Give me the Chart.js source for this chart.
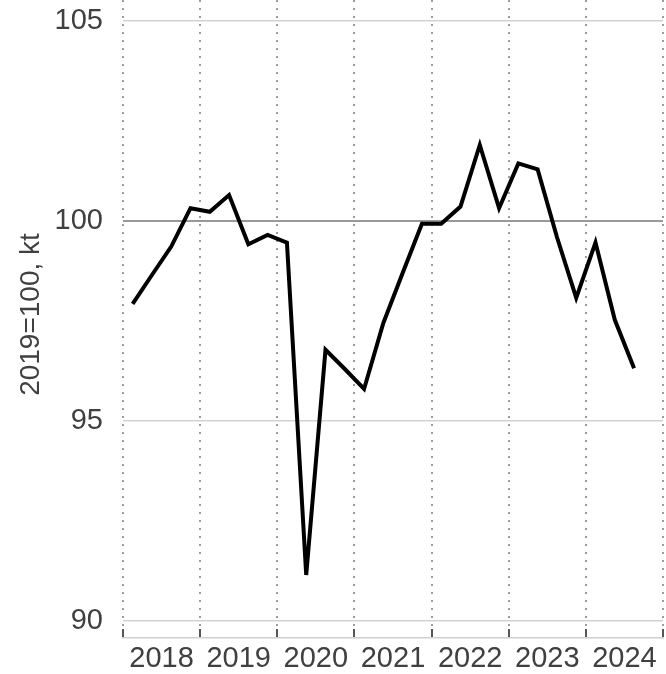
<!DOCTYPE html>
<html>
<head>
<meta charset="utf-8">
<script src="https://cdn.jsdelivr.net/npm/chart.js@4/dist/chart.umd.min.js"></script>
<style>
  html, body { margin: 0; padding: 0; background: #fff; }
  #wrap { width: 666px; height: 674px; }
</style>
</head>
<body>
<div id="wrap"><canvas id="c" width="666" height="674"></canvas></div>
<script>
// Quarterly periods (2018Q1 .. 2024Q3)
const quarters = [
  "2018Q1","2018Q2","2018Q3","2018Q4",
  "2019Q1","2019Q2","2019Q3","2019Q4",
  "2020Q1","2020Q2","2020Q3","2020Q4",
  "2021Q1","2021Q2","2021Q3","2021Q4",
  "2022Q1","2022Q2","2022Q3","2022Q4",
  "2023Q1","2023Q2","2023Q3","2023Q4",
  "2024Q1","2024Q2","2024Q3"
];
// Index, 2019=100 (kt)
const values = [
  97.93, 98.65, 99.36, 100.32,
  100.23, 100.65, 99.42, 99.65,
  99.46, 91.15, 96.78, 96.30,
  95.80, 97.45, 98.70, 99.93,
  99.93, 100.36, 101.90, 100.32,
  101.44, 101.29, 99.60, 98.08,
  99.46, 97.53, 96.32
];
const yearLabels = ["2018","2019","2020","2021","2022","2023","2024"];
const yTicks = [90, 95, 100, 105];
const yTitle = "2019=100, kt";

const firstYear = parseInt(yearLabels[0], 10);
const lastYear = parseInt(yearLabels[yearLabels.length - 1], 10) + 1;
const points = quarters.map((q, i) => {
  const yr = parseInt(q.slice(0, 4), 10);
  const qn = parseInt(q.slice(5), 10);
  return { x: yr + (qn - 0.5) / 4, y: values[i] };
});

const FONT = "'Liberation Sans', Arial, sans-serif";

new Chart(document.getElementById('c'), {
  type: 'line',
  data: {
    datasets: [{
      data: points,
      borderColor: '#000',
      borderWidth: 4,
      pointRadius: 0,
      tension: 0,
      fill: false,
      borderJoinStyle: 'miter',
      xAxisID: 'x'
    }]
  },
  options: {
    responsive: false,
    animation: false,
    events: [],
    layout: { padding: { left: 0, right: 3, top: 0, bottom: 0 } },
    plugins: { legend: { display: false }, tooltip: { enabled: false } },
    scales: {
      x: {
        type: 'linear',
        position: 'bottom',
        weight: 0,
        min: firstYear,
        max: lastYear,
        afterBuildTicks: (s) => {
          const t = [];
          for (let y = firstYear; y <= lastYear; y++) t.push({ value: y });
          s.ticks = t;
        },
        ticks: { display: false },
        grid: {
          display: true,
          color: '#9c9c9c',
          lineWidth: 2,
          drawTicks: true,
          tickLength: 9,
          tickColor: '#555',
          tickWidth: 2,
          tickBorderDash: []
        },
        border: { display: false, dash: [2, 6] }
      },
      xl: {
        type: 'category',
        labels: yearLabels,
        position: 'bottom',
        weight: 1,
        offset: true,
        afterFit: (s) => { s.height = 36; },
        grid: { display: false, drawTicks: false },
        border: { display: true, color: '#d0d0d0', width: 1.5 },
        ticks: {
          color: '#404040',
          font: { family: FONT, size: 29, lineHeight: 1.0 },
          padding: 6,
          maxRotation: 0,
          autoSkip: false
        }
      },
      y: {
        type: 'linear',
        min: 89.8,
        max: 105.525,
        afterBuildTicks: (s) => { s.ticks = yTicks.map(v => ({ value: v })); },
        afterFit: (s) => { s.paddingTop = 0; s.paddingBottom = 0; s.width = 123; },
        ticks: {
          color: '#404040',
          font: { family: FONT, size: 29 },
          padding: 20
        },
        grid: {
          drawTicks: false,
          color: (ctx) => (ctx.tick && ctx.tick.value === 100) ? '#999999' : '#d2d2d2',
          lineWidth: (ctx) => (ctx.tick && ctx.tick.value === 100) ? 2 : 1.5
        },
        border: { display: false },
        title: {
          display: true,
          text: yTitle,
          color: '#404040',
          font: { family: FONT, size: 28 },
          padding: { top: 14, bottom: 3 }
        }
      }
    }
  }
});
</script>
</body>
</html>
